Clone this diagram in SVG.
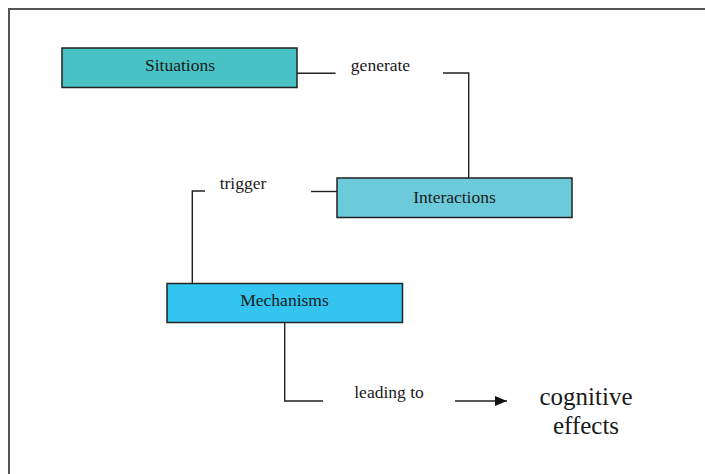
<svg xmlns="http://www.w3.org/2000/svg" width="705" height="474" viewBox="0 0 705 474">
<defs>
<style>
.box{stroke:#222;stroke-width:1.5}
.lbl{font-family:'Liberation Serif','DejaVu Serif','Noto Serif',serif;font-size:17.5px;fill:#1a1a1a;text-anchor:middle}
.big{font-family:'Liberation Serif','DejaVu Serif','Noto Serif',serif;font-size:25px;fill:#1a1a1a;text-anchor:middle}
.con{fill:none;stroke:#222;stroke-width:1.4}
</style>
<marker id="ah" markerWidth="12" markerHeight="10" refX="12" refY="5" orient="auto" markerUnits="userSpaceOnUse">
<path d="M0,0 L12,5 L0,10 Z" fill="#111"/>
</marker>
</defs>
<rect width="705" height="474" fill="#fff"/>
<path d="M9,474 V9 H705" fill="none" stroke="#555" stroke-width="2"/>
<g id="connectors">
<path class="con" d="M297,73.3 H335.5"/>
<path class="con" d="M443,73 H468.7 V178"/>
<path class="con" d="M337,191.5 H311"/>
<path class="con" d="M205,191 H192.3 V283.5"/>
<path class="con" d="M284.7,323 V401 H323"/>
<path class="con" d="M455,401 H507" marker-end="url(#ah)"/>
</g>
<g id="situations">
<rect class="box" x="62" y="48" width="235" height="39.5" fill="#48c2c5"/>
<text class="lbl" x="180" y="71">Situations</text>
</g>
<g id="label-generate"><text class="lbl" x="380.5" y="70.5">generate</text></g>
<g id="interactions">
<rect class="box" x="337" y="178" width="235" height="39.5" fill="#6ccbdb"/>
<text class="lbl" x="454.5" y="203">Interactions</text>
</g>
<g id="label-trigger"><text class="lbl" x="243" y="188.5">trigger</text></g>
<g id="mechanisms">
<rect class="box" x="167" y="283.5" width="235.5" height="39" fill="#33c5f0"/>
<text class="lbl" x="284.5" y="306">Mechanisms</text>
</g>
<g id="label-leading"><text class="lbl" x="389" y="398">leading to</text></g>
<g id="cognitive-effects">
<text class="big" x="586" y="405">cognitive</text>
<text class="big" x="586" y="433.5">effects</text>
</g>
</svg>
